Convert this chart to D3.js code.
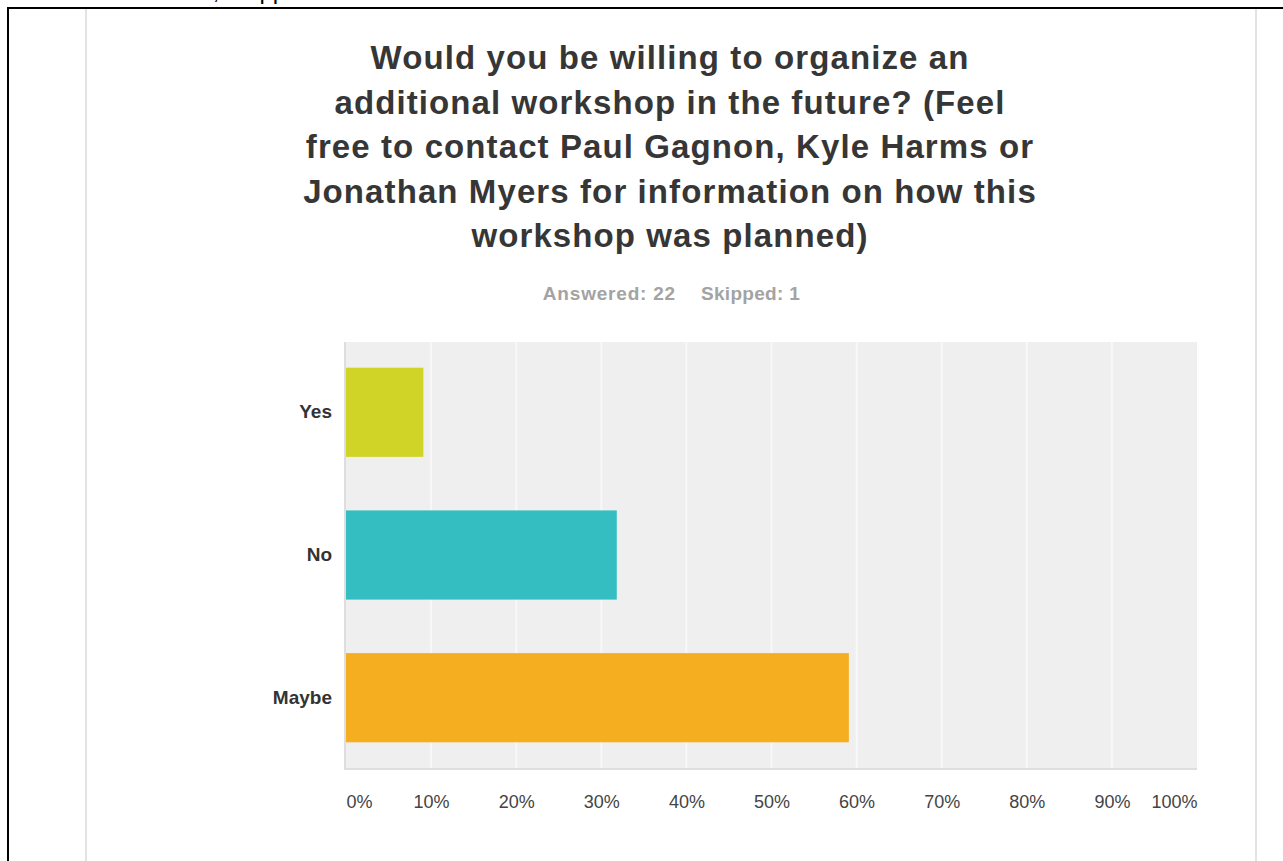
<!DOCTYPE html>
<html>
<head>
<meta charset="utf-8">
<script src="https://cdn.jsdelivr.net/npm/d3@7"></script>
<style>
  body { margin: 0; background: #fff; }
  svg { display: block; }
</style>
</head>
<body>
<div id="wrapper"></div>
<script>
// data
const answers = ["Yes", "No", "Maybe"]
const shares = [2 / 22, 7 / 22, 13 / 22]
const barColors = ["#d0d427", "#34bec2", "#f5ae20"]
const tickValues = [0, 0.1, 0.2, 0.3, 0.4, 0.5, 0.6, 0.7, 0.8, 0.9, 1]
const titleLines = [
    "Would you be willing to organize an",
    "additional workshop in the future? (Feel",
    "free to contact Paul Gagnon, Kyle Harms or",
    "Jonathan Myers for information on how this",
    "workshop was planned)"
]
const answeredText = "Answered: 22"
const skippedText = "Skipped: 1"

const width = 1283
const height = 861
let dimensions = {
    width: width,
    height: height,
    margin: { top: 342, right: 86, bottom: 93, left: 346 },
}
dimensions.boundedWidth = dimensions.width - dimensions.margin.left - dimensions.margin.right
dimensions.boundedHeight = dimensions.height - dimensions.margin.top - dimensions.margin.bottom

const svg = d3.select("#wrapper")
    .append("svg")
    .attr("width", dimensions.width)
    .attr("height", dimensions.height)
    .style("font-family", "'Liberation Sans', Arial, sans-serif")

// page frame (cut-off screenshot)
svg.append("text")
    .attr("x", 66).attr("y", -1)
    .attr("font-size", 24)
    .attr("fill", "#000")
    .text("Answered: 22, Skipped: 1")
svg.append("path")
    .attr("d", `M8,${height} V8 H${width}`)
    .attr("fill", "none")
    .attr("stroke", "#000")
    .attr("stroke-width", 2)
svg.append("line")
    .attr("x1", 86).attr("x2", 86).attr("y1", 9).attr("y2", height)
    .attr("stroke", "#e3e3e3").attr("stroke-width", 2)
svg.append("line")
    .attr("x1", 1256).attr("x2", 1256).attr("y1", 9).attr("y2", height)
    .attr("stroke", "#e3e3e3").attr("stroke-width", 2)

// title
const title = svg.append("text")
    .attr("text-anchor", "middle")
    .attr("font-size", 33)
    .attr("font-weight", "bold")
    .attr("letter-spacing", 1.1)
    .attr("fill", "#363636")
title.selectAll("tspan")
    .data(titleLines)
    .join("tspan")
    .attr("x", 670)
    .attr("y", (d, i) => 69 + i * 44.5)
    .text(d => d)

svg.append("text")
    .attr("x", 676).attr("y", 300)
    .attr("text-anchor", "end")
    .attr("font-size", 19).attr("font-weight", "bold").attr("fill", "#a3a3a3")
    .attr("letter-spacing", 0.8)
    .text(answeredText)
svg.append("text")
    .attr("x", 701).attr("y", 300)
    .attr("font-size", 19).attr("font-weight", "bold").attr("fill", "#a3a3a3")
    .attr("letter-spacing", 0.3)
    .text(skippedText)

const bounds = svg.append("g")
    .attr("transform", `translate(${dimensions.margin.left}, ${dimensions.margin.top})`)

// scales
const xScale = d3.scaleLinear()
    .domain([0, 1])
    .range([0, dimensions.boundedWidth])

const yScale = d3.scaleBand()
    .domain(answers)
    .range([0, dimensions.boundedHeight])
    .paddingInner(0.375)
    .paddingOuter(0.18)

// plot background + shadow
bounds.append("rect")
    .attr("x", -2).attr("y", 0)
    .attr("width", dimensions.boundedWidth + 2)
    .attr("height", dimensions.boundedHeight + 2)
    .attr("fill", "#dedede")
bounds.append("rect")
    .attr("x", 0).attr("y", 0)
    .attr("width", dimensions.boundedWidth)
    .attr("height", dimensions.boundedHeight)
    .attr("fill", "#efefef")

// grid
bounds.selectAll(".grid")
    .data(tickValues.slice(1, -1))
    .join("line")
    .attr("class", "grid")
    .attr("x1", d => xScale(d)).attr("x2", d => xScale(d))
    .attr("y1", 0).attr("y2", dimensions.boundedHeight)
    .attr("stroke", "#f8f8f8")
    .attr("stroke-width", 2)

// bars
bounds.selectAll(".bar")
    .data(answers)
    .join("rect")
    .attr("class", "bar")
    .attr("x", xScale(0))
    .attr("y", d => yScale(d))
    .attr("width", (d, i) => xScale(shares[i]) - xScale(0))
    .attr("height", yScale.bandwidth())
    .attr("fill", (d, i) => barColors[i])

// y axis labels
const yAxis = bounds.append("g")
    .call(d3.axisLeft(yScale).tickSize(0).tickPadding(14))
yAxis.select(".domain").remove()
yAxis.selectAll("text")
    .attr("font-size", 19)
    .attr("font-weight", "bold")
    .attr("font-family", "'Liberation Sans', Arial, sans-serif")
    .attr("fill", "#333")

// x axis labels
const xAxis = bounds.append("g")
    .attr("transform", `translate(0, ${dimensions.boundedHeight})`)
    .call(d3.axisBottom(xScale).tickValues(tickValues).tickFormat(d3.format(".0%")).tickSize(0).tickPadding(27))
xAxis.select(".domain").remove()
xAxis.selectAll("text")
    .attr("font-size", 18)
    .attr("font-family", "'Liberation Sans', Arial, sans-serif")
    .attr("fill", "#444")
    .attr("text-anchor", d => d === 0 ? "start" : d === 1 ? "end" : "middle")
</script>
</body>
</html>
